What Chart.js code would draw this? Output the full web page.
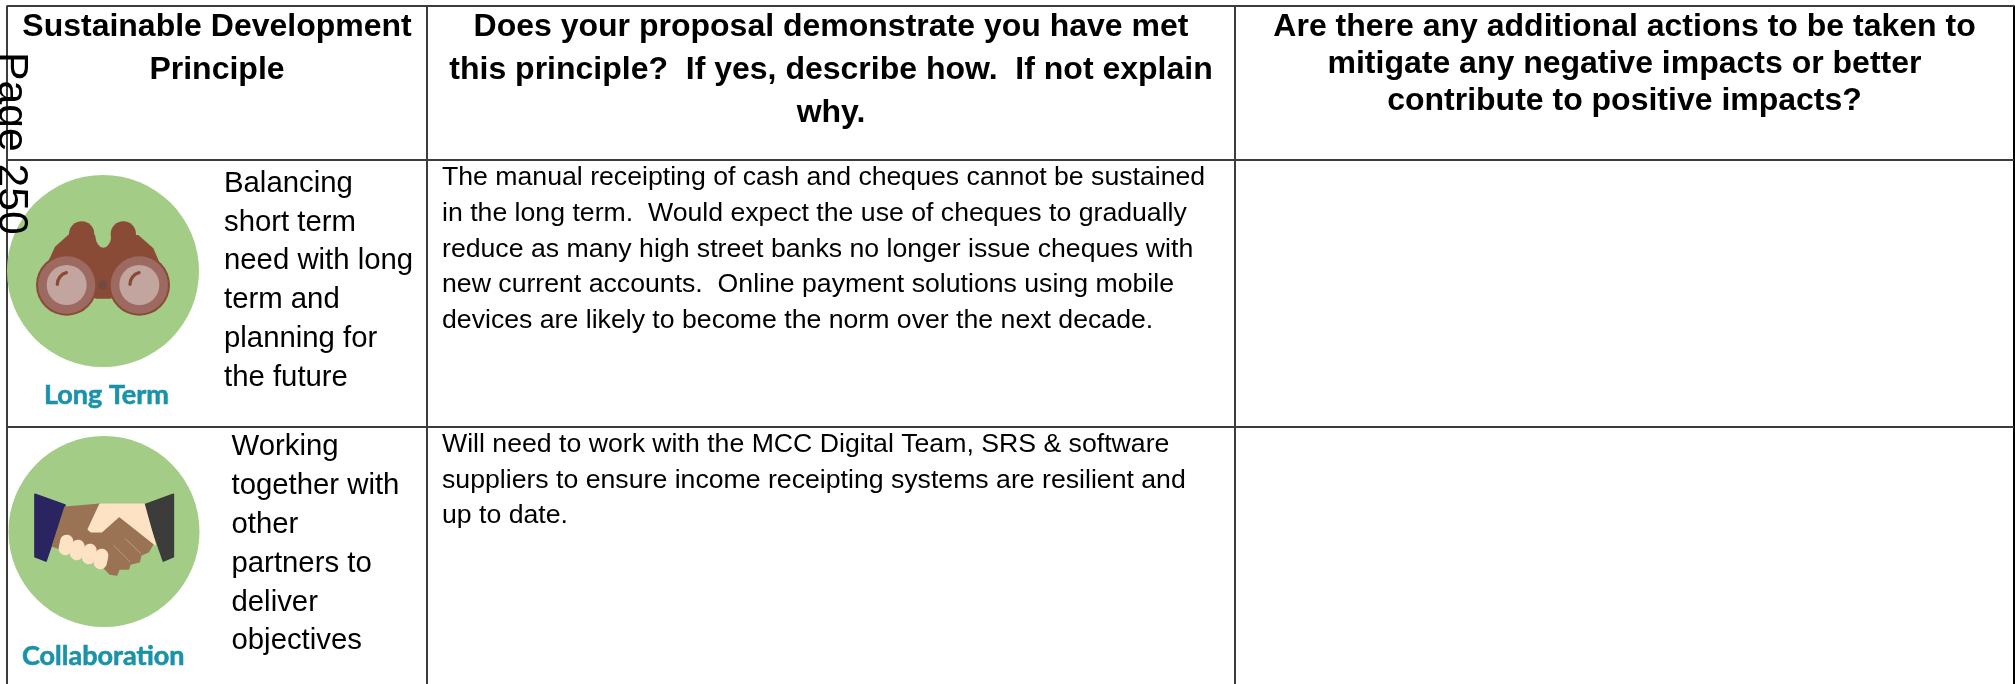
<!DOCTYPE html>
<html>
<head>
<meta charset="utf-8">
<title>Sustainable Development Principle</title>
<script src="https://cdn.jsdelivr.net/npm/chart.js@4"></script>
<style>
  html, body { margin: 0; padding: 0; background: #fff; overflow: hidden; }
  canvas { display: block; }
</style>
</head>
<body>
<canvas id="principleTable" width="2015" height="684"></canvas>
<script>
const columnEdges = [7, 427, 1235, 2014];
const rowEdges = [5.5, 160, 427];

const columnHeaders = [
  ["Sustainable Development", "Principle"],
  ["Does your proposal demonstrate you have met", "this principle?  If yes, describe how.  If not explain", "why."],
  ["Are there any additional actions to be taken to", "mitigate any negative impacts or better", "contribute to positive impacts?"],
];
const headerBaselines = [
  [36, 79],
  [36, 79, 122],
  [36, 73, 110],
];

const principleNames = ["Long Term", "Collaboration"];
const principleText = [
  ["Balancing", "short term", "need with long", "term and", "planning for", "the future"],
  ["Working", "together with", "other", "partners to", "deliver", "objectives"],
];
const principleTextX = [224, 231.5];
const principleBaselines = [
  [192, 231, 269, 308, 347, 386],
  [455, 494, 533, 572, 611, 649],
];

const answerText = [
  [
    "The manual receipting of cash and cheques cannot be sustained",
    "in the long term.  Would expect the use of cheques to gradually",
    "reduce as many high street banks no longer issue cheques with",
    "new current accounts.  Online payment solutions using mobile",
    "devices are likely to become the norm over the next decade.",
  ],
  [
    "Will need to work with the MCC Digital Team, SRS & software",
    "suppliers to ensure income receipting systems are resilient and",
    "up to date.",
  ],
];
const answerBaselines = [
  [185, 221, 257, 292, 328],
  [452, 488, 523],
];

const iconCentreX = [103, 104];
const iconCentreY = [271, 531.5];
const iconRadius = [96, 95.5];
const nameX = [44, 22];
const nameBaselines = [404, 665];

const pageLabel = "Page 250";

function poly(ctx, colour, pts) {
  ctx.fillStyle = colour;
  ctx.strokeStyle = colour;
  ctx.lineWidth = 5;
  ctx.lineJoin = "round";
  ctx.beginPath();
  pts.forEach((p, i) => (i ? ctx.lineTo(p[0], p[1]) : ctx.moveTo(p[0], p[1])));
  ctx.closePath();
  ctx.fill();
  ctx.stroke();
}

function disc(ctx, colour, x, y, r) {
  ctx.fillStyle = colour;
  ctx.beginPath();
  ctx.arc(x, y, r, 0, Math.PI * 2);
  ctx.fill();
}

// icons are sketched in 3x crop units, origin set by the caller
function drawBinoculars(ctx) {
  const brown = "#8a4b36";
  disc(ctx, brown, 245, 252, 38);
  disc(ctx, brown, 370, 252, 38);
  ctx.fillStyle = brown;
  ctx.beginPath();
  ctx.moveTo(115, 400);
  ctx.lineTo(165, 290);
  ctx.lineTo(210, 250);
  ctx.lineTo(285, 255);
  ctx.quadraticCurveTo(290, 293, 310, 293);
  ctx.quadraticCurveTo(330, 293, 335, 255);
  ctx.lineTo(415, 255);
  ctx.lineTo(460, 295);
  ctx.lineTo(505, 400);
  ctx.lineTo(330, 446);
  ctx.lineTo(290, 446);
  ctx.closePath();
  ctx.fill();
  [200, 418].forEach((x) => {
    disc(ctx, brown, x, 405, 92);
    disc(ctx, "#9d6a62", x, 405, 86);
    disc(ctx, "#c3a5a0", x, 405, 60);
    ctx.strokeStyle = brown;
    ctx.lineWidth = 10;
    ctx.lineCap = "round";
    ctx.beginPath();
    ctx.arc(x + 8, 403, 36, Math.PI * 1.0, Math.PI * 1.42);
    ctx.stroke();
  });
  disc(ctx, "#6f4a42", 308, 405, 14);
}

function drawHandshake(ctx) {
  poly(ctx, "#2a2560", [[45, 43], [135, 75], [78, 243], [45, 230]]);
  poly(ctx, "#3c3c3a", [[460, 43], [372, 75], [430, 243], [460, 230]]);
  poly(ctx, "#9a7355", [[135, 82], [240, 73], [205, 148], [240, 155], [290, 100], [400, 190], [385, 215], [362, 225], [358, 245], [330, 252], [325, 267], [297, 267], [290, 285], [270, 282], [240, 250], [98, 198]]);
  poly(ctx, "#fde2c4", [[240, 73], [372, 73], [405, 193], [298, 108], [245, 155], [213, 155], [205, 148]]);
  ctx.strokeStyle = "#b99a80";
  ctx.lineWidth = 3;
  [[280, 195, 330, 245], [315, 175, 362, 220]].forEach((s) => {
    ctx.beginPath();
    ctx.moveTo(s[0], s[1]);
    ctx.lineTo(s[2], s[3]);
    ctx.stroke();
  });
  ctx.fillStyle = "#fde2c4";
  [[138, 195], [172, 210], [208, 222], [243, 237]].forEach((c) => {
    ctx.save();
    ctx.translate(c[0], c[1]);
    ctx.rotate(0.2);
    ctx.beginPath();
    ctx.roundRect(-20, -31, 40, 62, 20);
    ctx.fill();
    ctx.restore();
  });
}

const tableText = {
  id: "tableText",
  afterDatasetsDraw(chart) {
    const { ctx, scales: { x, y } } = chart;
    ctx.save();

    // icons inside the green discs
    ctx.save();
    ctx.filter = "blur(0.6px)";
    ctx.save();
    ctx.translate(x.getPixelForValue(0), y.getPixelForValue(150));
    ctx.scale(1 / 3, 1 / 3);
    drawBinoculars(ctx);
    ctx.restore();
    ctx.save();
    ctx.translate(x.getPixelForValue(20), y.getPixelForValue(480));
    ctx.scale(1 / 3, 1 / 3);
    drawHandshake(ctx);
    ctx.restore();
    ctx.restore();

    ctx.textBaseline = "alphabetic";
    ctx.fillStyle = "#000";

    ctx.font = 'bold 32px "Liberation Sans"';
    ctx.textAlign = "center";
    columnHeaders.forEach((lines, c) => {
      const mid = (columnEdges[c] + columnEdges[c + 1]) / 2;
      lines.forEach((line, i) => {
        ctx.fillText(line, x.getPixelForValue(mid), y.getPixelForValue(headerBaselines[c][i]));
      });
    });

    ctx.textAlign = "left";
    ctx.font = '29.33px "Liberation Sans"';
    principleText.forEach((lines, r) => {
      lines.forEach((line, i) => {
        ctx.fillText(line, x.getPixelForValue(principleTextX[r]), y.getPixelForValue(principleBaselines[r][i]));
      });
    });

    ctx.font = '26.67px "Liberation Sans"';
    answerText.forEach((lines, r) => {
      lines.forEach((line, i) => {
        ctx.fillText(line, x.getPixelForValue(442), y.getPixelForValue(answerBaselines[r][i]));
      });
    });

    ctx.font = 'bold 27px "Lato"';
    ctx.fillStyle = "#1a93a9";
    ctx.strokeStyle = "#1a93a9";
    ctx.lineWidth = 0.6;
    principleNames.forEach((name, r) => {
      ctx.fillText(name, x.getPixelForValue(nameX[r]), y.getPixelForValue(nameBaselines[r]));
      ctx.strokeText(name, x.getPixelForValue(nameX[r]), y.getPixelForValue(nameBaselines[r]));
    });

    // sideways page number, runs off the left edge
    ctx.fillStyle = "#000";
    ctx.font = '42.67px "Liberation Sans"';
    ctx.translate(x.getPixelForValue(-1), y.getPixelForValue(52));
    ctx.rotate(Math.PI / 2);
    ctx.fillText(pageLabel, 0, 0);

    ctx.restore();
  },
};

new Chart(document.getElementById("principleTable"), {
  type: "scatter",
  data: {
    datasets: [{
      data: iconCentreX.map((cx, i) => ({ x: cx, y: iconCentreY[i] })),
      pointRadius: iconRadius,
      pointHoverRadius: iconRadius,
      pointBackgroundColor: "#a3cc86",
      pointBorderWidth: 0,
      clip: false,
    }],
  },
  options: {
    responsive: false,
    animation: false,
    events: [],
    layout: { autoPadding: false, padding: { left: 7, top: 5.5, right: 1, bottom: 0 } },
    plugins: { legend: { display: false }, tooltip: { enabled: false } },
    scales: {
      x: {
        type: "linear",
        min: columnEdges[0],
        max: columnEdges[columnEdges.length - 1],
        afterBuildTicks: (axis) => { axis.ticks = columnEdges.map((value) => ({ value })); },
        ticks: { display: false },
        grid: {
          color: (c) => (c.tick.value === columnEdges[3] ? "#000" : "#3c3c3c"),
          lineWidth: 2,
          drawTicks: false,
        },
        border: { display: false },
      },
      y: {
        type: "linear",
        reverse: true,
        min: rowEdges[0],
        max: 684,
        afterBuildTicks: (axis) => { axis.ticks = rowEdges.map((value) => ({ value })); },
        ticks: { display: false },
        grid: { color: "#3c3c3c", lineWidth: 2, drawTicks: false },
        border: { display: false },
      },
    },
  },
  plugins: [tableText],
});
</script>
</body>
</html>
